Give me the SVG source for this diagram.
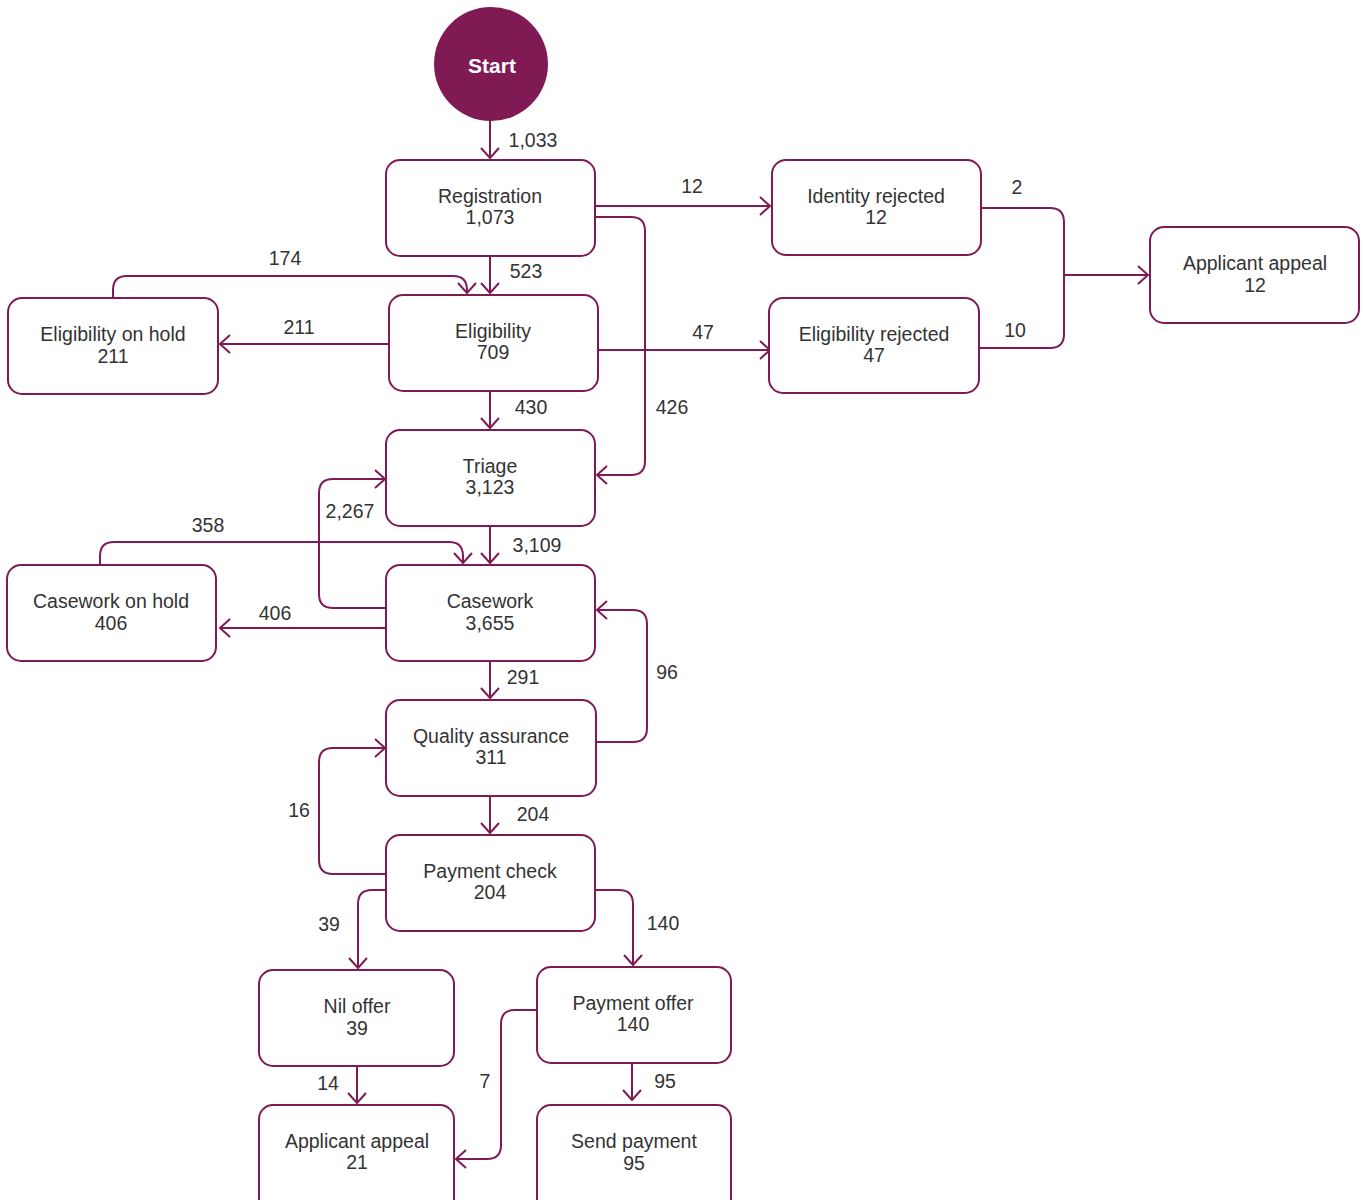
<svg xmlns="http://www.w3.org/2000/svg" width="1365" height="1200" viewBox="0 0 1365 1200">
  <style>
    .box { fill: #ffffff; stroke: #7f1a55; stroke-width: 2; }
    .lbl { font-family: "Liberation Sans", Arial, sans-serif; font-size: 19.5px; fill: #333333; text-anchor: middle; }
    .num { font-family: "Liberation Sans", Arial, sans-serif; font-size: 19.5px; fill: #333333; text-anchor: middle; }
    .start { font-family: "Liberation Sans", Arial, sans-serif; font-size: 21px; font-weight: bold; fill: #ffffff; text-anchor: middle; }
    .edge { fill: none; stroke: #7f1a55; stroke-width: 2; marker-end: url(#chev); }
    .line { fill: none; stroke: #7f1a55; stroke-width: 2; }
  </style>
  <defs>
    <marker id="chev" markerUnits="userSpaceOnUse" markerWidth="24" markerHeight="24" viewBox="-12 -12 24 24" refX="0" refY="0" orient="auto" overflow="visible">
      <path d="M-10,-9 L0,0 L-10,9" fill="none" stroke="#7f1a55" stroke-width="2"/>
    </marker>
  </defs>
  <rect width="1365" height="1200" fill="#ffffff"/>

  <!-- connectors -->
  <g id="connectors">
    <path class="edge" d="M490,121 V158"/>
    <path class="edge" d="M596,206 H770"/>
    <path class="edge" d="M596,217 H631 Q645,217 645,231 V461 Q645,475 631,475 H597"/>
    <path class="edge" d="M490,256 V293"/>
    <path class="edge" d="M113,298 V290 Q113,276 127,276 H453 Q467,276 467,290 V293"/>
    <path class="edge" d="M388,344 H220"/>
    <path class="edge" d="M598,350 H770"/>
    <path class="line" d="M981,208 H1050 Q1064,208 1064,222 V334 Q1064,348 1050,348 H979"/>
    <path class="edge" d="M1064,275 H1148"/>
    <path class="edge" d="M490,391 V428"/>
    <path class="edge" d="M490,526 V563"/>
    <path class="edge" d="M100,565 V556 Q100,542 114,542 H449 Q463,542 463,556 V563"/>
    <path class="edge" d="M385,608 H333 Q319,608 319,594 V493 Q319,479 333,479 H385"/>
    <path class="edge" d="M385,628 H220"/>
    <path class="edge" d="M490,661 V698"/>
    <path class="edge" d="M596,742 H633 Q647,742 647,728 V624 Q647,610 633,610 H597"/>
    <path class="edge" d="M490,796 V833"/>
    <path class="edge" d="M385,874 H333 Q319,874 319,860 V762 Q319,748 333,748 H385"/>
    <path class="edge" d="M385,890 H372 Q358,890 358,904 V968"/>
    <path class="edge" d="M596,890 H619 Q633,890 633,904 V965"/>
    <path class="edge" d="M357,1066 V1103"/>
    <path class="edge" d="M537,1010 H515 Q501,1010 501,1024 V1145 Q501,1159 487,1159 H456"/>
    <path class="edge" d="M632,1063 V1100"/>

    <text class="num" x="533" y="147">1,033</text>
    <text class="num" x="692" y="193">12</text>
    <text class="num" x="526" y="278">523</text>
    <text class="num" x="285" y="265">174</text>
    <text class="num" x="299" y="334">211</text>
    <text class="num" x="703" y="339">47</text>
    <text class="num" x="1017" y="194">2</text>
    <text class="num" x="1015" y="337">10</text>
    <text class="num" x="531" y="414">430</text>
    <text class="num" x="672" y="414">426</text>
    <text class="num" x="350" y="518">2,267</text>
    <text class="num" x="208" y="532">358</text>
    <text class="num" x="537" y="552">3,109</text>
    <text class="num" x="275" y="620">406</text>
    <text class="num" x="523" y="684">291</text>
    <text class="num" x="667" y="679">96</text>
    <text class="num" x="533" y="821">204</text>
    <text class="num" x="299" y="817">16</text>
    <text class="num" x="329" y="931">39</text>
    <text class="num" x="663" y="930">140</text>
    <text class="num" x="328" y="1090">14</text>
    <text class="num" x="485" y="1088">7</text>
    <text class="num" x="665" y="1088">95</text>
  </g>

  <!-- nodes -->
  <g id="start">
    <circle cx="491" cy="64" r="57" fill="#7f1a55"/>
    <text class="start" x="492" y="73">Start</text>
  </g>
  <g id="registration">
    <rect class="box" x="386" y="160" width="209" height="96" rx="14"/>
    <text class="lbl" x="490" y="203">Registration</text>
    <text class="lbl" x="490" y="224">1,073</text>
  </g>
  <g id="identity-rejected">
    <rect class="box" x="772" y="160" width="209" height="95" rx="14"/>
    <text class="lbl" x="876" y="203">Identity rejected</text>
    <text class="lbl" x="876" y="224">12</text>
  </g>
  <g id="applicant-appeal-12">
    <rect class="box" x="1150" y="227" width="209" height="96" rx="14"/>
    <text class="lbl" x="1255" y="270">Applicant appeal</text>
    <text class="lbl" x="1255" y="292">12</text>
  </g>
  <g id="eligibility-on-hold">
    <rect class="box" x="8" y="298" width="210" height="96" rx="14"/>
    <text class="lbl" x="113" y="341">Eligibility on hold</text>
    <text class="lbl" x="113" y="363">211</text>
  </g>
  <g id="eligibility">
    <rect class="box" x="389" y="295" width="209" height="96" rx="14"/>
    <text class="lbl" x="493" y="338">Eligibility</text>
    <text class="lbl" x="493" y="359">709</text>
  </g>
  <g id="eligibility-rejected">
    <rect class="box" x="769" y="298" width="210" height="95" rx="14"/>
    <text class="lbl" x="874" y="341">Eligibility rejected</text>
    <text class="lbl" x="874" y="362">47</text>
  </g>
  <g id="triage">
    <rect class="box" x="386" y="430" width="209" height="96" rx="14"/>
    <text class="lbl" x="490" y="473">Triage</text>
    <text class="lbl" x="490" y="494">3,123</text>
  </g>
  <g id="casework-on-hold">
    <rect class="box" x="7" y="565" width="209" height="96" rx="14"/>
    <text class="lbl" x="111" y="608">Casework on hold</text>
    <text class="lbl" x="111" y="630">406</text>
  </g>
  <g id="casework">
    <rect class="box" x="386" y="565" width="209" height="96" rx="14"/>
    <text class="lbl" x="490" y="608">Casework</text>
    <text class="lbl" x="490" y="630">3,655</text>
  </g>
  <g id="quality-assurance">
    <rect class="box" x="386" y="700" width="210" height="96" rx="14"/>
    <text class="lbl" x="491" y="743">Quality assurance</text>
    <text class="lbl" x="491" y="764">311</text>
  </g>
  <g id="payment-check">
    <rect class="box" x="386" y="835" width="209" height="96" rx="14"/>
    <text class="lbl" x="490" y="878">Payment check</text>
    <text class="lbl" x="490" y="899">204</text>
  </g>
  <g id="nil-offer">
    <rect class="box" x="259" y="970" width="195" height="96" rx="14"/>
    <text class="lbl" x="357" y="1013">Nil offer</text>
    <text class="lbl" x="357" y="1035">39</text>
  </g>
  <g id="payment-offer">
    <rect class="box" x="537" y="967" width="194" height="96" rx="14"/>
    <text class="lbl" x="633" y="1010">Payment offer</text>
    <text class="lbl" x="633" y="1031">140</text>
  </g>
  <g id="applicant-appeal-21">
    <rect class="box" x="259" y="1105" width="195" height="110" rx="14"/>
    <text class="lbl" x="357" y="1148">Applicant appeal</text>
    <text class="lbl" x="357" y="1169">21</text>
  </g>
  <g id="send-payment">
    <rect class="box" x="537" y="1105" width="194" height="110" rx="14"/>
    <text class="lbl" x="634" y="1148">Send payment</text>
    <text class="lbl" x="634" y="1170">95</text>
  </g>
</svg>
